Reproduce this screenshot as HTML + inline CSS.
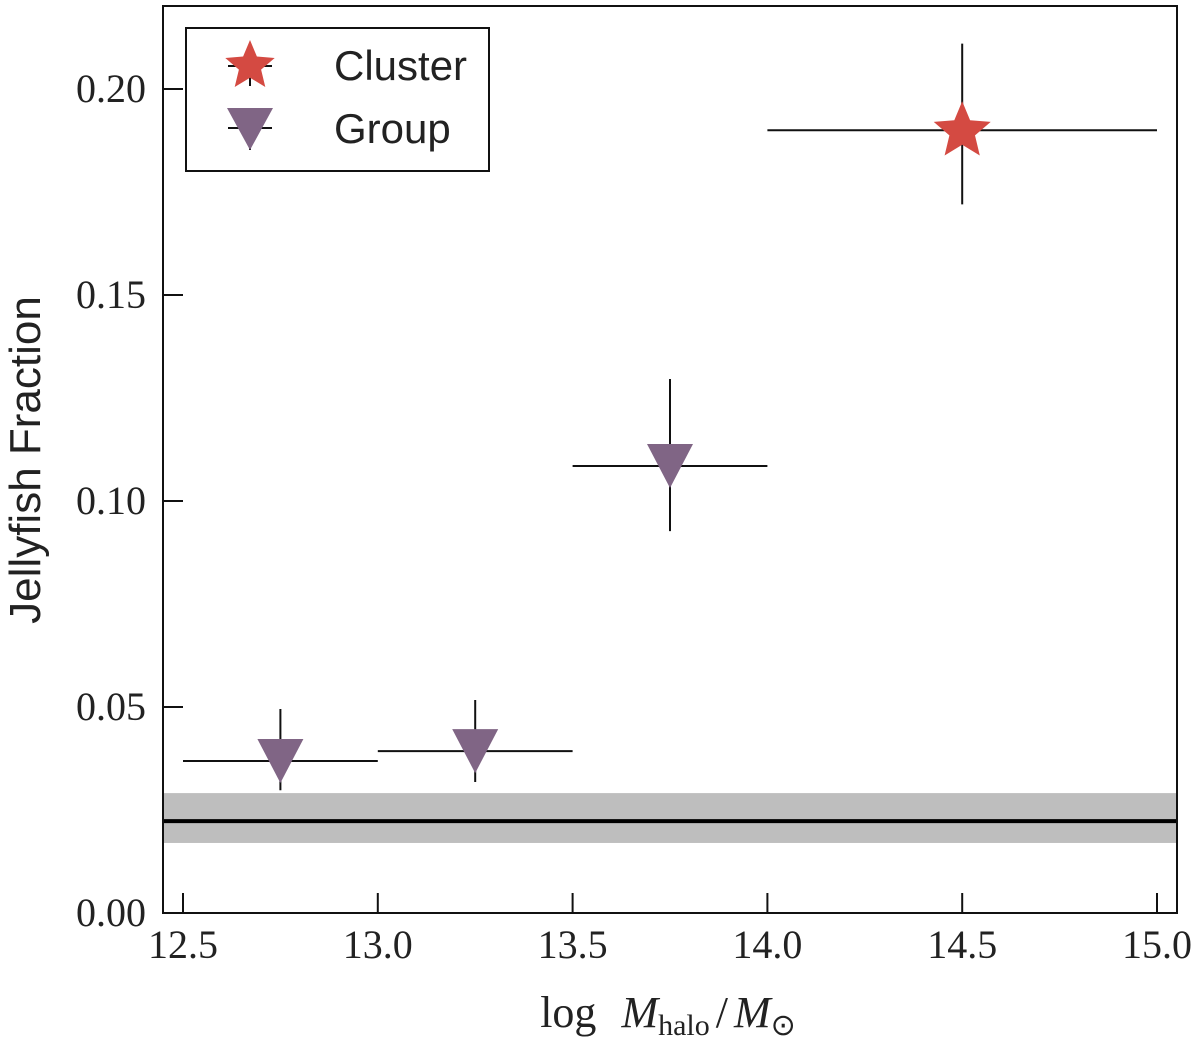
<!DOCTYPE html>
<html><head><meta charset="utf-8"><style>
body{margin:0;background:#fff}
svg text{font-family:"Liberation Serif",serif;fill:#222}
</style></head><body>
<svg id="chart" width="1200" height="1040" xmlns="http://www.w3.org/2000/svg">
<rect x="0" y="0" width="1200" height="1040" fill="#fff"/>
<rect x="163" y="6" width="1014" height="907" fill="#fff"/>
<g id="marks"></g>
<rect x="163" y="6" width="1014" height="907" fill="none" stroke="#111" stroke-width="2"/>
<g id="ticks"></g>
<text x="668" y="1027" font-size="44" text-anchor="middle">log  <tspan font-style="italic" dx="14">M</tspan><tspan font-size="30" dy="8">halo</tspan><tspan dy="-8" dx="6">/</tspan><tspan font-style="italic" dx="6">M</tspan><tspan font-size="30" dy="8">⊙</tspan></text>
<text transform="translate(40,460) rotate(-90)" font-size="44" text-anchor="middle" style="font-family:'Liberation Sans',sans-serif">Jellyfish Fraction</text>
<g>
<rect x="186" y="28" width="303" height="143" fill="#fff" stroke="#111" stroke-width="2"/>
<g>
<line x1="228" y1="66" x2="272" y2="66" stroke="#111" stroke-width="2"/>
<line x1="250" y1="46" x2="250" y2="86" stroke="#111" stroke-width="2"/>
<polygon id="legstar" fill="#d44a42"/>
<text x="334" y="80" font-size="42" style="font-family:'Liberation Sans',sans-serif">Cluster</text>
</g>
<g>
<line x1="228" y1="128" x2="272" y2="128" stroke="#111" stroke-width="2"/>
<line x1="250" y1="108" x2="250" y2="150" stroke="#111" stroke-width="2"/>
<polygon points="227,108 273,108 250,150" fill="#806585"/>
<text x="334" y="143" font-size="42" style="font-family:'Liberation Sans',sans-serif">Group</text>
</g>
</g>
</svg>
<script>
const groupX=[12.75,13.25,13.75];
const groupY=[0.0369,0.0393,0.1085];
const groupYErrLo=[0.0071,0.0075,0.0158];
const groupYErrHi=[0.0126,0.0124,0.0211];
const groupXErr=[0.25,0.25,0.25];
const clusterX=[14.5];
const clusterY=[0.190];
const clusterYErrLo=[0.018];
const clusterYErrHi=[0.021];
const clusterXErr=[0.5];
const fieldFraction=0.0223, fieldLo=0.0170, fieldHi=0.0291;
const xTicks=[12.5,13.0,13.5,14.0,14.5,15.0];
const xTickLabels=["12.5","13.0","13.5","14.0","14.5","15.0"];
const yTicks=[0,0.05,0.10,0.15,0.20];
const yTickLabels=["0.00","0.05","0.10","0.15","0.20"];
const NS="http://www.w3.org/2000/svg";
const X=v=>183+(v-12.5)*389.6;
const Y=v=>913-v*4120;
function mk(tag,attrs,parent){const e=document.createElementNS(NS,tag);for(const k in attrs)e.setAttribute(k,attrs[k]);parent.appendChild(e);return e;}
const marks=document.getElementById('marks'), ticks=document.getElementById('ticks');
let b=mk('rect',{x:163,y:Y(fieldHi),width:1014,height:Y(fieldLo)-Y(fieldHi),fill:'#bebebe'},marks);


let l=mk('line',{x1:163,x2:1177,y1:Y(fieldFraction),y2:Y(fieldFraction),stroke:'#000','stroke-width':4},marks);


function star(cx,cy,R){const r=R*0.45;let p=[];for(let i=0;i<10;i++){const a=-Math.PI/2+i*Math.PI/5;const rr=i%2?r:R;p.push((cx+rr*Math.cos(a)).toFixed(1)+','+(cy+rr*Math.sin(a)).toFixed(1));}return p.join(' ');}
document.getElementById('legstar').setAttribute('points',star(250,66,26));
function pt(x,y,lo,hi,xe,kind,i){
  const g=mk('g',{},marks);
  
  
  mk('line',{x1:X(x-xe),x2:X(x+xe),y1:Y(y),y2:Y(y),stroke:'#111','stroke-width':2},g);
  mk('line',{x1:X(x),x2:X(x),y1:Y(y+hi),y2:Y(y-lo),stroke:'#111','stroke-width':2},g);
  const cx=X(x),cy=Y(y);
  if(kind==='group') mk('polygon',{points:`${cx-23},${cy-22} ${cx+23},${cy-22} ${cx},${cy+22}`,fill:'#806585'},g);
  else mk('polygon',{points:star(cx,cy+1,30),fill:'#d44a42'},g);
}
groupX.forEach((x,i)=>pt(x,groupY[i],groupYErrLo[i],groupYErrHi[i],groupXErr[i],'group',i));
clusterX.forEach((x,i)=>pt(x,clusterY[i],clusterYErrLo[i],clusterYErrHi[i],clusterXErr[i],'cluster',i));
xTicks.forEach((v,i)=>{
  const t=mk('line',{x1:X(v),x2:X(v),y1:913,y2:893,stroke:'#111','stroke-width':2},ticks);
  
  
  const s=mk('text',{x:X(v),y:958,'font-size':40,'text-anchor':'middle'},ticks);s.textContent=xTickLabels[i];
  
  
});
yTicks.forEach((v,i)=>{
  const t=mk('line',{x1:163,x2:183,y1:Y(v),y2:Y(v),stroke:'#111','stroke-width':2},ticks);
  
  
  const s=mk('text',{x:146,y:Y(v)+13,'font-size':40,'text-anchor':'end'},ticks);s.textContent=yTickLabels[i];
  
  
});
</script>
</body></html>
